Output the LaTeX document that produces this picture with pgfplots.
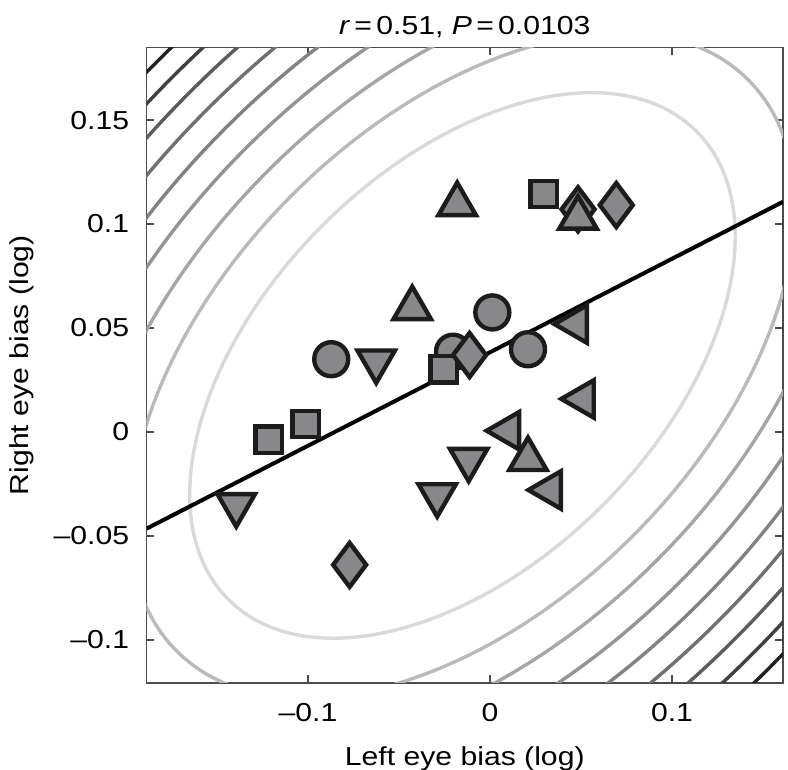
\documentclass[border=0pt]{standalone}
\usepackage{fontspec}
\setmainfont{Liberation Sans}[FakeStretch=1.16]
\usepackage{pgfplots}
\pgfplotsset{compat=1.18}
\usetikzlibrary{calc}
\definecolor{mfill}{RGB}{136,136,139}
\definecolor{medge}{RGB}{28,28,28}
\newcommand{\lblfont}{\fontsize{13}{16}\selectfont}

\begin{document}
\begin{tikzpicture}
\begin{axis}[
    width=318.25pt, height=317.75pt, scale only axis,
    xmin=-0.1887, xmax=0.161,
    ymin=-0.1207, ymax=0.1849,
    xtick={-0.1,0,0.1},
    xticklabels={\textendash0.1,0,0.1},
    ytick={-0.1,-0.05,0,0.05,0.1,0.15},
    yticklabels={\textendash0.1,\textendash0.05,0,0.05,0.1,0.15},
    tick align=inside, tick pos=both,
    major tick length=4pt,
    axis line style={line width=0.9pt, black!70},
    tick style={line width=0.9pt, black!70},
    tick label style={font=\lblfont},
    xticklabel style={anchor=north, inner sep=0pt, yshift=-10pt},
    yticklabel style={anchor=east, inner sep=0pt, xshift=-8.5pt},
    xlabel={Left eye bias (log)},
    ylabel={Right eye bias (log)},
    label style={font=\lblfont},
    xlabel style={at={(axis description cs:0.5,0)}, anchor=north, inner sep=0pt, yshift=-31.5pt},
    ylabel style={at={(axis description cs:0,0.5)}, rotate=0, anchor=south, inner sep=0pt, yshift=56pt},
    title={\textit{r}\,=\,0.51, \textit{P}\,=\,0.0103},
    every axis title shift=0pt,
    title style={font=\lblfont, at={(axis description cs:0.5,1)}, anchor=base, inner sep=0pt, yshift=6.25pt},
]
% contour ellipses of the fitted density, centred on the data mean
\draw[black!15, line width=1.7pt, rotate around={45:(axis cs:-0.0151,0.032)}] (axis cs:-0.0151,0.032) ellipse [x radius=165.5pt, y radius=99pt];
\draw[black!27, line width=1.7pt, rotate around={45:(axis cs:-0.0151,0.032)}] (axis cs:-0.0151,0.032) ellipse [x radius=202pt, y radius=120.5pt];
\draw[black!35, line width=1.7pt, rotate around={45:(axis cs:-0.0151,0.032)}] (axis cs:-0.0151,0.032) ellipse [x radius=230pt, y radius=137.6pt];
\draw[black!42, line width=1.7pt, rotate around={45:(axis cs:-0.0151,0.032)}] (axis cs:-0.0151,0.032) ellipse [x radius=256.5pt, y radius=153.4pt];
\draw[black!49, line width=1.7pt, rotate around={45:(axis cs:-0.0151,0.032)}] (axis cs:-0.0151,0.032) ellipse [x radius=280.3pt, y radius=167.7pt];
\draw[black!56, line width=1.7pt, rotate around={45:(axis cs:-0.0151,0.032)}] (axis cs:-0.0151,0.032) ellipse [x radius=302.2pt, y radius=180.8pt];
\draw[black!64, line width=1.7pt, rotate around={45:(axis cs:-0.0151,0.032)}] (axis cs:-0.0151,0.032) ellipse [x radius=322.7pt, y radius=193pt];
\draw[black!75, line width=1.7pt, rotate around={45:(axis cs:-0.0151,0.032)}] (axis cs:-0.0151,0.032) ellipse [x radius=341.9pt, y radius=204.5pt];
\draw[black!87, line width=1.7pt, rotate around={45:(axis cs:-0.0151,0.032)}] (axis cs:-0.0151,0.032) ellipse [x radius=360.2pt, y radius=215.4pt];

% regression line
\addplot[black, line width=2pt] coordinates {(-0.1887,-0.0465) (0.161,0.1107)};

% circles
\addplot[only marks, mark=*, mark size=8.5pt,
    mark options={draw=medge, fill=mfill, line width=2.2pt}] coordinates {
    (-0.0872,0.0350) (0.0013,0.0575) (-0.0203,0.0386) (0.0209,0.0398)
};
% squares
\addplot[only marks, mark=square*, mark size=6.6pt,
    mark options={draw=medge, fill=mfill, line width=2.2pt}] coordinates {
    (-0.1216,-0.0038) (-0.1013,0.0038) (-0.0254,0.0301) (0.0295,0.1144)
};
% diamonds
\addplot[only marks, mark=diamond*, mark size=11pt,
    mark options={draw=medge, fill=mfill, line width=2.2pt}] coordinates {
    (-0.0771,-0.0639) (-0.0112,0.0370) (0.0484,0.1071) (0.0694,0.1091)
};
% triangles pointing left
\addplot[only marks, mark=triangle*, mark size=10.8pt,
    mark options={draw=medge, fill=mfill, line width=2.2pt, rotate=90}] coordinates {
    (0.0473,0.0519) (0.0511,0.0159) (0.0101,0.0006) (0.0330,-0.0279)
};
% triangles pointing down
\addplot[only marks, mark=triangle*, mark size=10.8pt,
    mark options={draw=medge, fill=mfill, line width=2.2pt, rotate=180}] coordinates {
    (-0.1394,-0.0351) (-0.0625,0.0340) (-0.0117,-0.0133) (-0.0290,-0.0303)
};
% triangles pointing up
\addplot[only marks, mark=triangle*, mark size=10.8pt,
    mark options={draw=medge, fill=mfill, line width=2.2pt}] coordinates {
    (-0.0180,0.1095) (0.0484,0.1030) (-0.0427,0.0595) (0.0209,-0.0131)
};
\end{axis}
\pgfresetboundingbox
\path[use as bounding box] ($(current axis.south west)+(-73.25pt,-43.5pt)$) rectangle ($(current axis.north east)+(2.5pt,23.75pt)$);
\end{tikzpicture}
\end{document}
